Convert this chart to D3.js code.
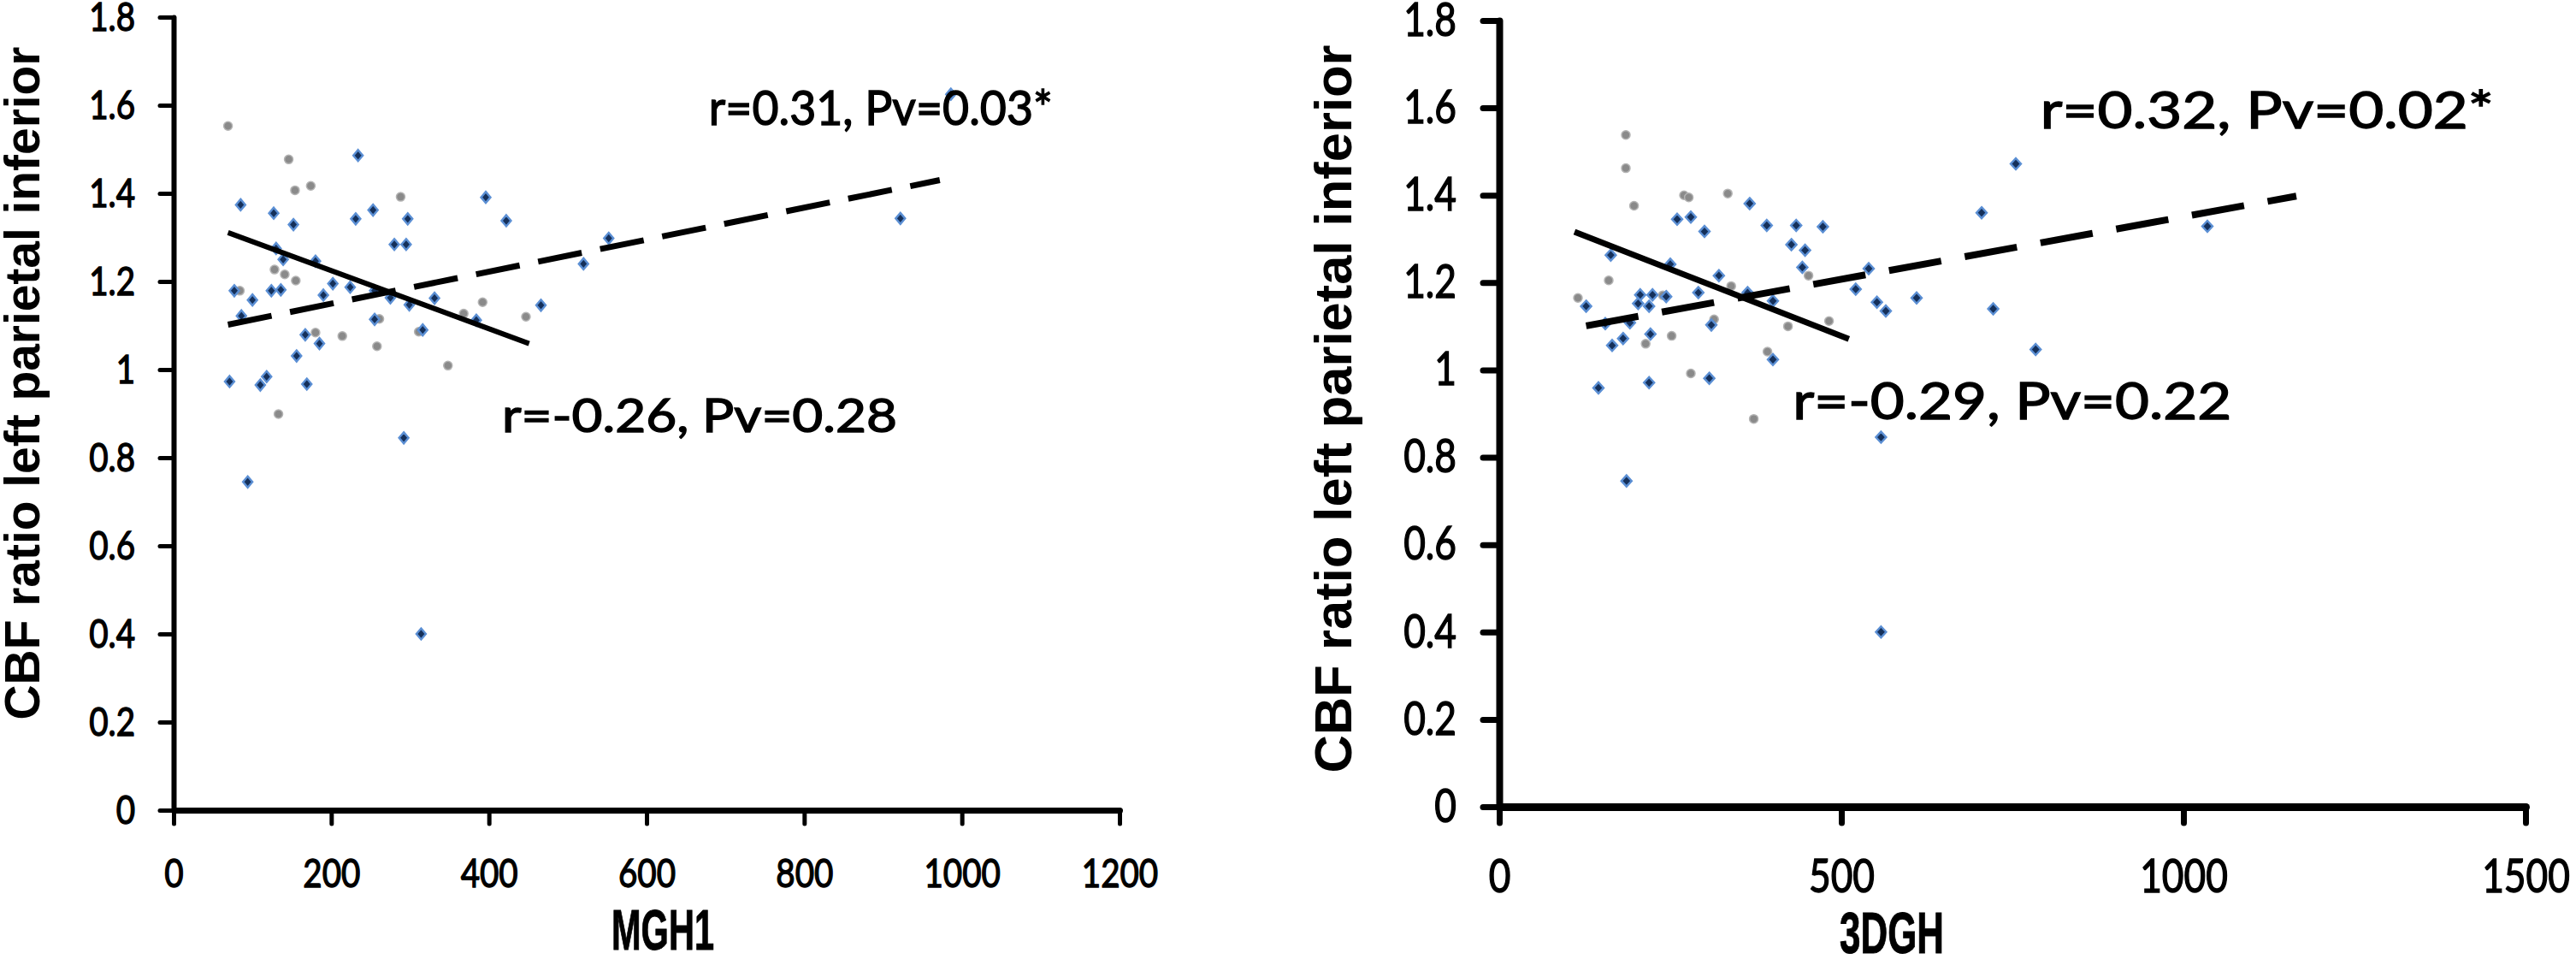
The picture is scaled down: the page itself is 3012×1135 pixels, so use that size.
<!DOCTYPE html>
<html><head><meta charset="utf-8">
<script src="https://cdn.jsdelivr.net/npm/d3@7"></script>
<style>body{margin:0;background:#fff}svg{display:block}</style>
</head><body>
<svg id="c" width="3012" height="1135"></svg>
<script>
// ---------------- DATA ----------------
const yTicks = [0, 0.2, 0.4, 0.6, 0.8, 1.0, 1.2, 1.4, 1.6, 1.8];
const yTickLabels = ["0", "0.2", "0.4", "0.6", "0.8", "1", "1.2", "1.4", "1.6", "1.8"];
const leftXTicks = [0, 200, 400, 600, 800, 1000, 1200];
const rightXTicks = [0, 500, 1000, 1500];
const yTitle = "CBF ratio left parietal inferior";
const leftXTitle = "MGH1";
const rightXTitle = "3DGH";

// MGH1 panel: blue diamonds (x, CBF ratio)
const leftBlue = [
  [85,1.374],[127,1.355],[152,1.329],[234,1.486],[253,1.362],[231,1.342],[297,1.342],
  [280,1.284],[295,1.284],[396,1.391],[422,1.338],[552,1.298],[520,1.240],[466,1.146],
  [130,1.275],[139,1.250],[180,1.246],[77,1.179],[100,1.158],[86,1.122],[124,1.179],
  [136,1.181],[202,1.195],[224,1.187],[190,1.169],[255,1.179],[275,1.163],[299,1.147],
  [331,1.162],[384,1.112],[255,1.114],[316,1.090],[167,1.079],[185,1.059],[156,1.031],
  [71,0.973],[118,0.984],[110,0.965],[169,0.967],[292,0.845],[94,0.745],[314,0.400],
  [922,1.343],[986,1.625]
];
// MGH1 panel: grey circles
const leftGray = [
  [69,1.553],[146,1.477],[154,1.407],[174,1.417],[288,1.392],[128,1.227],[141,1.216],
  [155,1.202],[84,1.179],[392,1.153],[368,1.127],[447,1.120],[261,1.115],[180,1.084],
  [214,1.076],[311,1.086],[258,1.053],[348,1.009],[133,0.899]
];
// 3DGH panel: blue diamonds
const rightBlue = [
  [755,1.472],[705,1.360],[1035,1.329],[366,1.381],[260,1.345],[280,1.350],[300,1.317],
  [391,1.331],[434,1.331],[473,1.328],[427,1.287],[447,1.274],[443,1.235],[163,1.263],
  [250,1.242],[321,1.216],[540,1.232],[291,1.177],[363,1.177],[206,1.172],[224,1.172],
  [244,1.168],[203,1.152],[219,1.146],[127,1.146],[400,1.158],[521,1.185],[552,1.155],
  [565,1.135],[610,1.165],[722,1.140],[155,1.106],[191,1.108],[310,1.103],[221,1.082],
  [181,1.072],[165,1.056],[400,1.024],[784,1.047],[145,0.959],[219,0.971],[307,0.981],
  [558,0.846],[186,0.746],[558,0.400]
];
// 3DGH panel: grey circles
const rightGray = [
  [185,1.538],[185,1.462],[197,1.376],[270,1.400],[277,1.395],[334,1.404],[160,1.205],
  [115,1.165],[239,1.171],[339,1.192],[452,1.216],[314,1.116],[422,1.100],[482,1.112],
  [252,1.078],[214,1.060],[392,1.042],[280,0.992],[372,0.888]
];
// trend lines (endpoints in data units)
const leftSolid = [[69,1.311],[451,1.059]];
const leftDashed = [[69,1.102],[972,1.430]];
const rightSolid = [[110,1.316],[511,1.071]];
const rightDashed = [[127,1.101],[1165,1.398]];
// annotation texts
const leftNotes = ["r=0.31, Pv=0.03*", "r=-0.26, Pv=0.28"];
const rightNotes = ["r=0.32, Pv=0.02*", "r=-0.29, Pv=0.22"];

// ---------------- LAYOUT ----------------
const panels = [
  { xDomain:[0,1200], xRange:[203,1309], yRange:[947,20], xTicks:leftXTicks,
    blue:leftBlue, gray:leftGray, solid:leftSolid, dashed:leftDashed, notes:leftNotes,
    xTitle:leftXTitle,
    axisW:6, tickW:5, tickLen:16, yPad:29, xPad:41, tickFont:47,
    lineW:6, dash:"52,22", dia:[6.5,5.5], grayR:5,
    notePos:[[679,1.555],[416.6,0.858]], noteFont:[57,54], noteLen:[402,462],
    xTitlePos:[775,1110], xTitleFont:66, xTitleLen:120,
    yTitlePos:[46,448], yTitleFont:57, yTitleLen:787 },
  { xDomain:[0,1500], xRange:[1753,2953], yRange:[943,24], xTicks:rightXTicks,
    blue:rightBlue, gray:rightGray, solid:rightSolid, dashed:rightDashed, notes:rightNotes,
    xTitle:rightXTitle,
    axisW:8, tickW:7, tickLen:19, yPad:31, xPad:43, tickFont:54,
    lineW:7, dash:"62,28", dia:[6.5,6], grayR:5,
    notePos:[[791,1.553],[429,0.887]], noteFont:[60,60], noteLen:[530,513],
    xTitlePos:[2212,1114], xTitleFont:68, xTitleLen:122,
    yTitlePos:[1580,478], yTitleFont:61.5, yTitleLen:851 }
];

const svg = d3.select("#c");
const numFont = "Lato, 'Open Sans', sans-serif";
const boldFont = "'Liberation Sans', Arial, sans-serif";
const squeeze = 0.82;

function compress(sel, factor) {
  sel.each(function(){
    const w = this.getComputedTextLength();
    d3.select(this).attr("textLength", w * factor).attr("lengthAdjust", "spacingAndGlyphs");
  });
}

panels.forEach(p => {
  const x = d3.scaleLinear().domain(p.xDomain).range(p.xRange);
  const y = d3.scaleLinear().domain([0, 1.8]).range(p.yRange);
  const g = svg.append("g");

  // y axis
  const ya = g.append("g").attr("transform", `translate(${p.xRange[0]},0)`)
    .call(d3.axisLeft(y).tickValues(yTicks).tickFormat((d,i) => yTickLabels[i])
      .tickSize(p.tickLen).tickSizeOuter(0).tickPadding(p.yPad));
  // x axis
  const xa = g.append("g").attr("transform", `translate(0,${p.yRange[0]})`)
    .call(d3.axisBottom(x).tickValues(p.xTicks).tickFormat(d3.format("d"))
      .tickSize(p.tickLen).tickSizeOuter(0).tickPadding(p.xPad));
  [ya, xa].forEach(a => {
    a.select(".domain").attr("stroke", "#000").attr("stroke-width", p.axisW).attr("stroke-linecap","round");
    a.selectAll(".tick line").attr("stroke", "#000").attr("stroke-width", p.tickW).attr("stroke-linecap","round");
    a.selectAll(".tick text").attr("fill", "#000").style("font-family", numFont)
      .style("font-size", p.tickFont + "px").attr("stroke", "#000").attr("stroke-width", 1.4);
    compress(a.selectAll(".tick text"), squeeze);
  });
  xa.select(".domain").attr("stroke-width", p.axisW + 1);

  // points
  g.append("g").selectAll("circle").data(p.gray).join("circle")
    .attr("cx", d => x(d[0])).attr("cy", d => y(d[1])).attr("r", p.grayR)
    .attr("fill", "#8a8a8a").attr("stroke", "#b4b4b4").attr("stroke-width", 1.5);
  const [h, w] = p.dia;
  g.append("g").selectAll("path").data(p.blue).join("path")
    .attr("transform", d => `translate(${x(d[0])},${y(d[1])})`)
    .attr("d", `M0,${-h}L${w},0L0,${h}L${-w},0Z`)
    .attr("fill", "#15305a").attr("stroke", "#5b8fd4").attr("stroke-width", 2.4);

  // trend lines
  const line = d3.line().x(d => x(d[0])).y(d => y(d[1]));
  g.append("path").attr("d", line(p.solid)).attr("fill", "none")
    .attr("stroke", "#000").attr("stroke-width", p.lineW);
  g.append("path").attr("d", line(p.dashed)).attr("fill", "none")
    .attr("stroke", "#000").attr("stroke-width", p.lineW + 1).attr("stroke-dasharray", p.dash);

  // annotations
  p.notes.forEach((t, i) => {
    g.append("text").attr("x", x(p.notePos[i][0])).attr("y", y(p.notePos[i][1]))
      .style("font-family", numFont).style("font-size", p.noteFont[i] + "px")
      .attr("stroke", "#000").attr("stroke-width", 1.4)
      .attr("textLength", p.noteLen[i]).attr("lengthAdjust", "spacingAndGlyphs")
      .text(t);
  });

  // x title
  g.append("text").attr("x", p.xTitlePos[0]).attr("y", p.xTitlePos[1])
    .attr("text-anchor", "middle").style("font-family", boldFont).style("font-weight", "bold")
    .style("font-size", p.xTitleFont + "px").attr("stroke", "#000").attr("stroke-width", 1)
    .attr("textLength", p.xTitleLen).attr("lengthAdjust", "spacingAndGlyphs")
    .text(p.xTitle);

  // y title
  g.append("text").attr("transform", `translate(${p.yTitlePos[0]},${p.yTitlePos[1]}) rotate(-90)`)
    .attr("text-anchor", "middle").style("font-family", boldFont)
    .style("font-weight", "bold").style("font-size", p.yTitleFont + "px")
    .attr("textLength", p.yTitleLen).attr("lengthAdjust", "spacingAndGlyphs")
    .text(yTitle);
});
</script>
</body></html>
